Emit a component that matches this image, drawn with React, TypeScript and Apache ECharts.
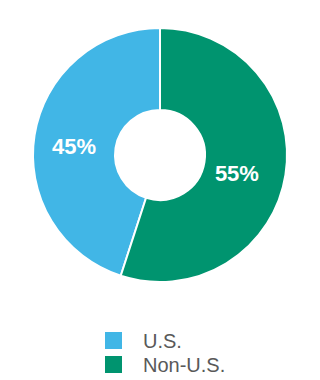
import React, { useEffect, useRef } from "react";
import * as echarts from "echarts";

const categories = ["U.S.", "Non-U.S."];
const values = [45, 55];
const colors = ["#41b6e6", "#00946f"];

export default function App() {
  const ref = useRef<HTMLDivElement>(null);
  useEffect(() => {
    if (!ref.current) return;
    const chart = echarts.init(ref.current, undefined, { renderer: "svg" });
    chart.setOption({
      animation: false,
      color: colors,
      legend: {
        orient: "vertical",
        left: 103,
        top: 330,
        padding: 0,
        itemWidth: 19,
        itemHeight: 19,
        itemGap: 3,
        icon: "rect",
        textStyle: {
          fontFamily: "Liberation Sans",
          fontSize: 20,
          lineHeight: 19,
          color: "#595959",
          padding: [0, 0, 0, 15],
        },
        data: categories,
      },
      series: [
        {
          type: "pie",
          center: [160, 155],
          radius: [45, 127],
          clockwise: false,
          startAngle: 90,
          itemStyle: { borderColor: "#fff", borderWidth: 2 },
          label: {
            show: true,
            position: "inside",
            formatter: "{c}%",
            color: "#fff",
            fontFamily: "Liberation Sans",
            fontWeight: "bold",
            fontSize: 22,
          },
          labelLine: { show: false },
          data: categories.map((name, i) => ({
            name,
            value: values[i],
            label: i === 0 ? { offset: [2, 5] } : { offset: [-11, 5] },
          })),
        },
      ],
    });
    return () => chart.dispose();
  }, []);
  return <div ref={ref} style={{ width: 320, height: 380, position: "absolute", left: 0, top: 0 }} />;
}
